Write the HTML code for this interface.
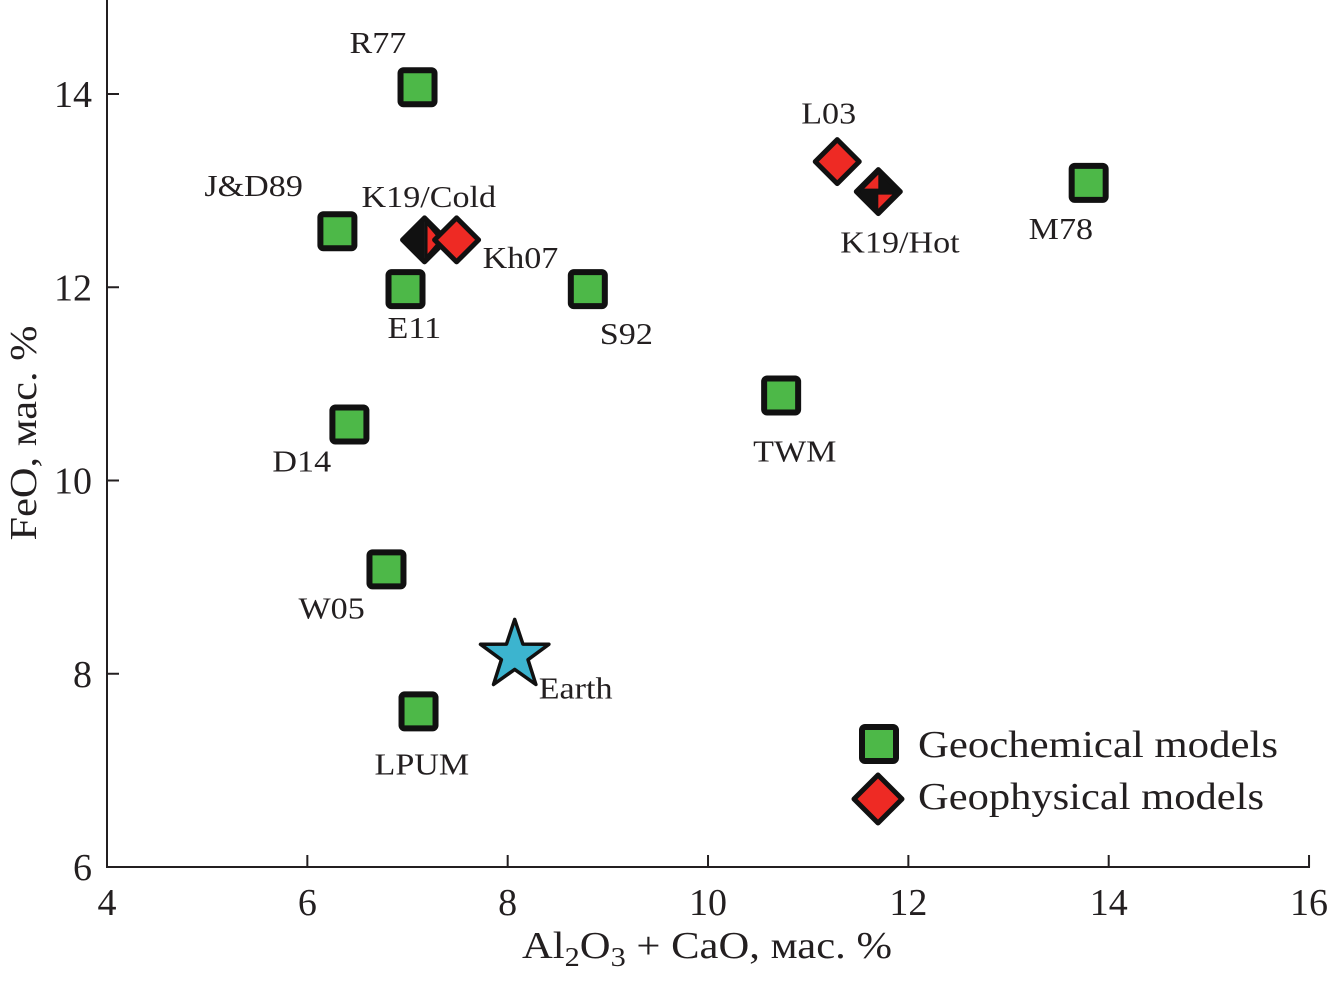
<!DOCTYPE html>
<html><head><meta charset="utf-8"><style>
body{margin:0;background:#fff}
svg{display:block}
text{font-family:"Liberation Serif",serif;fill:#231f20}
</style></head><body>
<svg id="chart" width="1329" height="982" viewBox="0 0 1329 982" xmlns="http://www.w3.org/2000/svg">
<g id="axes"></g>
<g id="marks"></g>
<g>
 <rect x="862" y="727" width="34" height="34" fill="#4db848" stroke="#111" stroke-width="6" rx="3"/>
 <text x="918" y="757" font-size="38" textLength="360" lengthAdjust="spacingAndGlyphs">Geochemical models</text>
 <polygon points="878,775 902,799 878,823 854,799" fill="#ee2a24" stroke="#111" stroke-width="5" stroke-linejoin="round"/>
 <text x="918" y="809" font-size="38" textLength="346" lengthAdjust="spacingAndGlyphs">Geophysical models</text>
</g>
</svg>
<script>
const geoNames=["R77","J&D89","E11","S92","D14","W05","LPUM","TWM","M78"];
const geoX=[7.10,6.30,6.98,8.80,6.42,6.79,7.11,10.73,13.80];
const geoY=[14.07,12.58,11.98,11.98,10.58,9.08,7.61,10.88,13.08];
const geoLabelDx=[-68,-133,-18,12,-77,-88,-44,-28,-60];
const geoLabelDy=[-34,-35,49,55,47,49,63,66,56];
const phyNames=["L03","K19/Hot","K19/Cold","Kh07"];
const phyX=[11.29,11.70,7.17,7.49];
const phyY=[13.30,12.99,12.49,12.49];
const phyType=["red","hot","cold","red"];
const phyLabelDx=[-36,-38,-63,26];
const phyLabelDy=[-38,61,-33,28];
const earthX=[8.07], earthY=[8.19];
const xTicks=[4,6,8,10,12,14,16];
const yTicks=[6,8,10,12,14];
const X=v=>107+(v-4)*100.17;
const Y=v=>867-(v-6)*96.625;
const NS="http://www.w3.org/2000/svg";
function mk(p,tag,at){const e=document.createElementNS(NS,tag);for(const k in at)e.setAttribute(k,at[k]);p.appendChild(e);return e;}
const ax=document.getElementById('axes'), mg=document.getElementById('marks');
let l=mk(ax,'line',{x1:107,y1:0,x2:107,y2:867,stroke:'#231f20','stroke-width':2});


l=mk(ax,'line',{x1:106,y1:867,x2:1310,y2:867,stroke:'#231f20','stroke-width':2});


xTicks.forEach(t=>{
 let k=mk(ax,'line',{x1:X(t),y1:855,x2:X(t),y2:867,stroke:'#231f20','stroke-width':2});
 
 
 let tx=mk(ax,'text',{x:X(t),y:915,'font-size':38,'text-anchor':'middle'});tx.textContent=t;
 
 
});
yTicks.forEach(t=>{
 let k=mk(ax,'line',{x1:107,y1:Y(t),x2:119,y2:Y(t),stroke:'#231f20','stroke-width':2});
 
 
 let tx=mk(ax,'text',{x:92,y:Y(t)+13,'font-size':38,'text-anchor':'end'});tx.textContent=t;
 
 
});
let xt=mk(ax,'text',{x:522,y:958,'font-size':38,textLength:370,lengthAdjust:'spacingAndGlyphs'});
xt.innerHTML='Al<tspan font-size="27" dy="8">2</tspan><tspan dy="-8">O</tspan><tspan font-size="27" dy="8">3</tspan><tspan dy="-8"> + CaO, мас. %</tspan>';


let yt=mk(ax,'text',{x:0,y:0,'font-size':38,'text-anchor':'middle',textLength:215,lengthAdjust:'spacingAndGlyphs',transform:'translate(36,433) rotate(-90)'});
yt.textContent='FeO, мас. %';


function lbl(n,x,y){let t=mk(mg,'text',{x:x,y:y,'font-size':31,transform:`translate(${x},0) scale(1.1,1) translate(${-x},0)`});t.textContent=n;return t;}
geoNames.forEach((n,i)=>{
 const cx=X(geoX[i]),cy=Y(geoY[i]);
 let r=mk(mg,'rect',{x:cx-17,y:cy-17,width:34,height:34,fill:'#4db848',stroke:'#111','stroke-width':6,rx:3});
 
 
 let t=lbl(n,cx+geoLabelDx[i],cy+geoLabelDy[i]);
 
 
});
phyNames.forEach((n,i)=>{
 const cx=X(phyX[i]),cy=Y(phyY[i]),d=22;
 const g=mk(mg,'g',{});
 
 
 const T=[cx,cy-d],R=[cx+d,cy],B=[cx,cy+d],L=[cx-d,cy],C=[cx,cy];
 const poly=(pts,f)=>mk(g,'polygon',{points:pts.map(p=>p.join(',')).join(' '),fill:f});
 if(phyType[i]=='red'){poly([T,R,B,L],'#ee2a24');}
 else if(phyType[i]=='cold'){poly([T,C,B,L],'#111');poly([T,R,B],'#111');poly([[cx+3,cy-d+8],[cx+d-7,cy],[cx+3,cy+d-8]],'#ee2a24');}
 else{poly([T,R,B,L],'#111');poly([[cx-d+8,cy-3],[cx,cy-d+5],[cx,cy-3]],'#ee2a24');poly([[cx,cy+3],[cx+d-8,cy+3],[cx,cy+d-5]],'#ee2a24');}
 mk(g,'polygon',{points:[T,R,B,L].map(p=>p.join(',')).join(' '),fill:'none',stroke:'#111','stroke-width':5,'stroke-linejoin':'round'});
 let t=lbl(n,cx+phyLabelDx[i],cy+phyLabelDy[i]);
 
 
});
earthX.forEach((v,i)=>{
 const cx=X(v),cy=Y(earthY[i]);let pts=[];
 for(let k=0;k<10;k++){const a=-Math.PI/2+k*Math.PI/5,r=k%2?14:36;pts.push((cx+r*Math.cos(a)).toFixed(1)+','+(cy+r*Math.sin(a)).toFixed(1));}
 let s=mk(mg,'polygon',{points:pts.join(' '),fill:'#3cb4cf',stroke:'#111','stroke-width':3.5,'stroke-linejoin':'round'});
 
 
 let t=lbl('Earth',cx+24,cy+43);
 
 
});
</script>
</body></html>
